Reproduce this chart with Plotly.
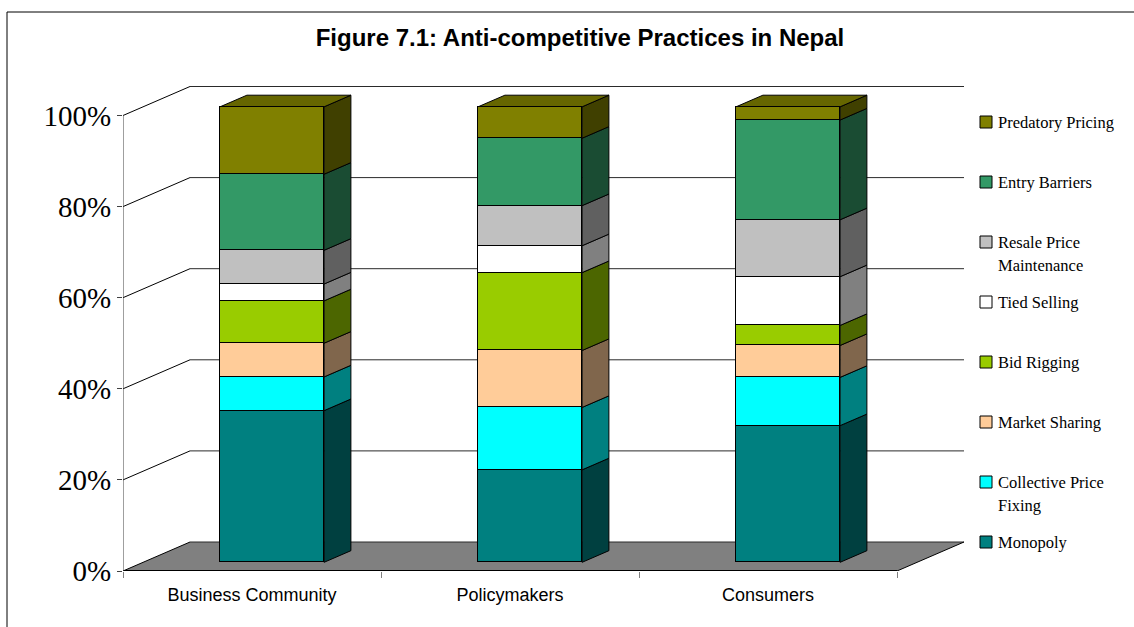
import plotly.graph_objects as go

# ---------------------------------------------------------------- data
categories = ["Business Community", "Policymakers", "Consumers"]

series_names = [
    "Monopoly",
    "Collective Price Fixing",
    "Market Sharing",
    "Bid Rigging",
    "Tied Selling",
    "Resale Price Maintenance",
    "Entry Barriers",
    "Predatory Pricing",
]

# share of responses (%) per group, stacked bottom to top
monopoly = [33.3, 20.3, 30.0]
collective_price_fixing = [7.4, 13.7, 10.6]
market_sharing = [7.4, 12.5, 7.0]
bid_rigging = [9.3, 17.1, 4.4]
tied_selling = [3.7, 5.9, 10.7]
resale_price_maintenance = [7.4, 8.8, 12.5]
entry_barriers = [16.7, 14.8, 21.9]
predatory_pricing = [14.8, 6.9, 2.9]

series_values = [
    monopoly,
    collective_price_fixing,
    market_sharing,
    bid_rigging,
    tied_selling,
    resale_price_maintenance,
    entry_barriers,
    predatory_pricing,
]

legend_labels = [
    "Monopoly",
    "Collective Price<br>Fixing",
    "Market Sharing",
    "Bid Rigging",
    "Tied Selling",
    "Resale Price<br>Maintenance",
    "Entry Barriers",
    "Predatory Pricing",
]

y_tick_values = [0, 20, 40, 60, 80, 100]
y_tick_labels = ["0%", "20%", "40%", "60%", "80%", "100%"]

# ---------------------------------------------------------------- style
series_colors = ["#008080", "#00FFFF", "#FFCC99", "#99CC00",
                 "#FFFFFF", "#C0C0C0", "#339966", "#808000"]


def shade(hex_color, factor):
    h = hex_color.lstrip("#")
    r, g, b = (int(h[k:k + 2], 16) for k in (0, 2, 4))
    return "#%02X%02X%02X" % (round(r * factor), round(g * factor), round(b * factor))


# ---------------------------------------------------------------- geometry
FIG_W, FIG_H = 1134, 627
PLOT_L, PLOT_R, PLOT_T, PLOT_B = 123, 970, 80, 571
CAT_STEP = 258.0      # px between category centres
VAL_STEP = 4.555      # px per percentage point
DEPTH_PX = (67.0, -29.0)   # oblique offset of the full floor depth
Z_FRONT, Z_BACK = 0.3, 0.7  # depth slot taken by the columns
BAR_W = 104.0 / CAT_STEP

DX = DEPTH_PX[0] / CAT_STEP
DY = -DEPTH_PX[1] / VAL_STEP

front_x_range = [-0.5, -0.5 + (PLOT_R - PLOT_L) / CAT_STEP]
front_y_range = [0.0, (PLOT_B - PLOT_T) / VAL_STEP]
bar_x_range = [v - Z_FRONT * DX for v in front_x_range]
bar_y_range = [v - Z_FRONT * DY for v in front_y_range]

n_cat = len(categories)
x_pos = list(range(n_cat))


def P(i, v, z):
    """Oblique projection of (category index, value, depth) into the column-plane axes."""
    return i + (z - Z_FRONT) * DX, v + (z - Z_FRONT) * DY


def path(points):
    return "M " + " L ".join(f"{x:.5f},{y:.5f}" for x, y in points) + " Z"


def px_to_paper(px, py):
    return (px - PLOT_L) / (PLOT_R - PLOT_L), (PLOT_B - py) / (PLOT_B - PLOT_T)


shapes = []
REF = dict(xref="x2", yref="y2", layer="below")

# floor
shapes.append(dict(type="path", path=path([P(-0.5, 0, 0), P(n_cat - 0.5, 0, 0),
                                            P(n_cat - 0.5, 0, 1), P(-0.5, 0, 1)]),
                   fillcolor="#808080", line=dict(width=0), **REF))

# gridlines on the side and back walls
for v in y_tick_values:
    x0, y0 = P(-0.5, v, 0)
    x1, y1 = P(-0.5, v, 1)
    x2, y2 = P(n_cat - 0.5, v, 1)
    shapes.append(dict(type="line", x0=x0, y0=y0, x1=x1, y1=y1,
                       line=dict(color="#000000", width=1), **REF))
    shapes.append(dict(type="line", x0=x1, y0=y1, x1=x2, y1=y2,
                       line=dict(color="#2A2A2A", width=1), **REF))

# floor front and right edges, value axis line
fx0, fy0 = P(-0.5, 0, 0)
fx1, fy1 = P(n_cat - 0.5, 0, 0)
bx1, by1 = P(n_cat - 0.5, 0, 1)
shapes.append(dict(type="line", x0=fx0, y0=fy0, x1=fx1, y1=fy1,
                   line=dict(color="#000000", width=2), **REF))
shapes.append(dict(type="line", x0=fx1, y0=fy1, x1=bx1, y1=by1,
                   line=dict(color="#000000", width=1), **REF))
ax0, ay0 = P(-0.5, 0, 0)
ax1, ay1 = P(-0.5, 100, 0)
shapes.append(dict(type="line", x0=ax0, y0=ay0, x1=ax1, y1=ay1,
                   line=dict(color="#404040", width=1), **REF))

# column side faces and top face
dx = (Z_BACK - Z_FRONT) * DX
dy = (Z_BACK - Z_FRONT) * DY
for i in x_pos:
    base = 0.0
    for s, vals in enumerate(series_values):
        top = base + vals[i]
        xr = i + BAR_W / 2
        shapes.append(dict(type="path",
                           path=path([(xr, base), (xr + dx, base + dy),
                                      (xr + dx, top + dy), (xr, top)]),
                           fillcolor=shade(series_colors[s], 0.5),
                           line=dict(color="#000000", width=1), **REF))
        base = top
    xl = i - BAR_W / 2
    xr = i + BAR_W / 2
    shapes.append(dict(type="path",
                       path=path([(xl, base), (xr, base), (xr + dx, base + dy), (xl + dx, base + dy)]),
                       fillcolor=shade(series_colors[-1], 0.8),
                       line=dict(color="#000000", width=1), **REF))

# chart border (top and left edges)
bl = px_to_paper(7, 12)
shapes.append(dict(type="line", xref="paper", yref="paper",
                   x0=bl[0], y0=px_to_paper(7, 700)[1], x1=bl[0], y1=bl[1],
                   line=dict(color="#000000", width=1)))
shapes.append(dict(type="line", xref="paper", yref="paper",
                   x0=bl[0], y0=bl[1], x1=px_to_paper(1200, 12)[0], y1=bl[1],
                   line=dict(color="#000000", width=1)))

# ---------------------------------------------------------------- legend
annotations = []
LEG_X, LEG_Y0, LEG_STEP, LEG_BOX, LEG_LINE = 980, 122, 60, 12, 23
for k, s in enumerate(reversed(range(len(series_names)))):
    cy = LEG_Y0 + k * LEG_STEP
    p0 = px_to_paper(LEG_X, cy - LEG_BOX / 2)
    p1 = px_to_paper(LEG_X + LEG_BOX, cy + LEG_BOX / 2)
    shapes.append(dict(type="rect", xref="paper", yref="paper",
                       x0=p0[0], y0=p0[1], x1=p1[0], y1=p1[1],
                       fillcolor=series_colors[s], line=dict(color="#000000", width=1)))
    for j, line_text in enumerate(legend_labels[s].split("<br>")):
        tx, ty = px_to_paper(LEG_X + 16, cy + j * LEG_LINE)
        annotations.append(dict(xref="paper", yref="paper", x=tx, y=ty,
                                text=line_text, showarrow=False,
                                xanchor="left", yanchor="middle",
                                font=dict(family="Liberation Serif", size=16.5, color="#000000")))

# ---------------------------------------------------------------- traces
fig = go.Figure()
for s, name in enumerate(series_names):
    fig.add_trace(go.Bar(
        x=x_pos, y=series_values[s], name=name, width=BAR_W,
        marker=dict(color=series_colors[s], line=dict(color="#000000", width=1)),
        xaxis="x2", yaxis="y2", showlegend=False, hoverinfo="name+y",
    ))

# invisible anchor trace for the front category axis
fig.add_trace(go.Scatter(x=categories, y=[0] * n_cat, mode="markers",
                         marker=dict(opacity=0), showlegend=False, hoverinfo="skip"))

fig.update_layout(
    width=FIG_W, height=FIG_H,
    margin=dict(l=PLOT_L, r=FIG_W - PLOT_R, t=PLOT_T, b=FIG_H - PLOT_B, pad=0),
    paper_bgcolor="#FFFFFF", plot_bgcolor="rgba(0,0,0,0)",
    barmode="stack", bargap=0,
    showlegend=False,
    title=dict(text="Figure 7.1: Anti-competitive Practices in Nepal",
               x=580 / FIG_W, y=1 - 38 / FIG_H, xanchor="center", yanchor="middle",
               font=dict(family="Liberation Sans", size=24, color="#000000", weight="bold")),
    xaxis=dict(type="category", categoryarray=categories, categoryorder="array",
               range=front_x_range, showgrid=False, zeroline=False, showline=False,
               ticks="outside", tickson="boundaries", ticklen=6, tickcolor="#808080",
               ticklabelstandoff=11,
               tickfont=dict(family="Liberation Sans", size=18, color="#000000"),
               fixedrange=True),
    yaxis=dict(range=front_y_range, tickvals=y_tick_values, ticktext=y_tick_labels,
               showgrid=False, zeroline=False, showline=False,
               ticks="outside", ticklen=5, tickcolor="#404040",
               tickfont=dict(family="Liberation Serif", size=29, color="#000000"),
               fixedrange=True),
    xaxis2=dict(overlaying="x", anchor="y2", range=bar_x_range, visible=False, fixedrange=True),
    yaxis2=dict(overlaying="y", anchor="x2", range=bar_y_range, visible=False, fixedrange=True),
    shapes=shapes,
    annotations=annotations,
)

fig.write_html("out.html")
